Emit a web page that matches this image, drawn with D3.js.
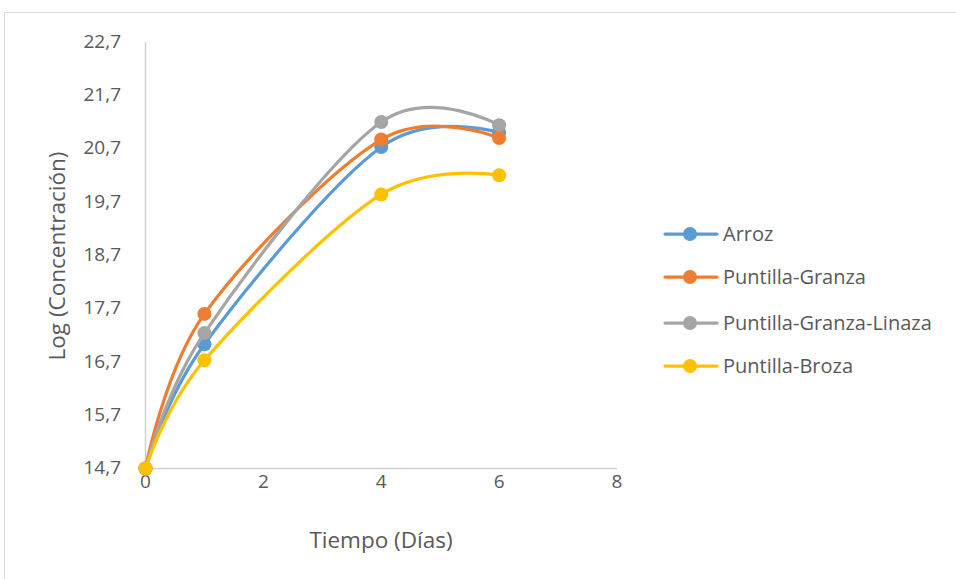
<!DOCTYPE html>
<html><head><meta charset="utf-8">
<script src="https://cdn.jsdelivr.net/npm/d3@7"></script>
<style>body{margin:0;background:#fff}svg{display:block}text{font-family:"Open Sans",Lato,sans-serif;fill:#595959}</style>
</head><body>
<script>
const days = [0, 1, 4, 6];
const seriesNames = ["Arroz", "Puntilla-Granza", "Puntilla-Granza-Linaza", "Puntilla-Broza"];
const arroz = [14.7, 17.03, 20.73, 21.0];
const granza = [14.7, 17.6, 20.87, 20.9];
const linaza = [14.7, 17.24, 21.2, 21.14];
const broza = [14.7, 16.73, 19.84, 20.2];
const yTicks = [14.7, 15.7, 16.7, 17.7, 18.7, 19.7, 20.7, 21.7, 22.7];
const yTickLabels = ["14,7","15,7","16,7","17,7","18,7","19,7","20,7","21,7","22,7"];
const xTicks = [0, 2, 4, 6, 8];
const colors = ["#5B9BD5", "#ED7D31", "#A5A5A5", "#FFC000"];
const allSeries = [arroz, granza, linaza, broza];

const W = 956, H = 579;
const svg = d3.select("body").append("svg").attr("width", W).attr("height", H);
svg.append("rect").attr("x", 4.5).attr("y", 12.5).attr("width", 1000).attr("height", 1000)
  .attr("fill", "#fff").attr("stroke", "#d9d9d9");

const x = d3.scaleLinear().domain([0, 8]).range([145.5, 617]);
const y = d3.scaleLinear().domain([14.7, 22.7]).range([468.5, 42]);

// axes
svg.append("line").attr("x1", x(0)).attr("x2", x(0)).attr("y1", y(22.7)).attr("y2", y(14.7))
  .attr("stroke", "#d0d0d0").attr("stroke-width", 1.5);
svg.append("line").attr("x1", x(0)).attr("x2", x(8)).attr("y1", y(14.7)).attr("y2", y(14.7))
  .attr("stroke", "#d0d0d0").attr("stroke-width", 1.5);

svg.selectAll(".yt").data(yTicks).enter().append("text")
  .attr("x", 121).attr("y", d => y(d) - 1).attr("dy", "0.35em").attr("text-anchor", "end")
  .attr("font-size", 19).text((d, i) => yTickLabels[i]);
svg.selectAll(".xt").data(xTicks).enter().append("text")
  .attr("x", d => x(d)).attr("y", 481).attr("dy", "0.35em").attr("text-anchor", "middle")
  .attr("font-size", 19).text(d => d);

svg.append("text").attr("x", 381).attr("y", 540).attr("dy", "0.35em").attr("text-anchor", "middle")
  .attr("font-size", 22.5).text("Tiempo (Días)");
svg.append("text").attr("transform", "translate(57,256) rotate(-90)").attr("dy", "0.35em")
  .attr("text-anchor", "middle").attr("font-size", 22.5).text("Log (Concentración)");

const line = d3.line().x((d, i) => x(days[i])).y(d => y(d)).curve(d3.curveCardinal.tension(0));

allSeries.forEach((s, k) => {
  const g = svg.append("g");
  g.append("path").attr("d", line(s)).attr("fill", "none").attr("stroke", colors[k])
    .attr("stroke-width", 3.25).attr("stroke-linecap", "round");
  g.selectAll("circle").data(s).enter().append("circle")
    .attr("cx", (d, i) => x(days[i])).attr("cy", d => y(d)).attr("r", 7).attr("fill", colors[k]);
});

// legend
const legY = [234, 277, 323, 366];
seriesNames.forEach((n, k) => {
  const g = svg.append("g");
  g.append("line").attr("x1", 665).attr("x2", 717).attr("y1", legY[k]).attr("y2", legY[k])
    .attr("stroke", colors[k]).attr("stroke-width", 3.25).attr("stroke-linecap", "round");
  g.append("circle").attr("cx", 690).attr("cy", legY[k]).attr("r", 7).attr("fill", colors[k]);
  g.append("text").attr("x", 723).attr("y", legY[k]).attr("dy", "0.35em").attr("font-size", 20).text(n);
});
</script>
</body></html>
